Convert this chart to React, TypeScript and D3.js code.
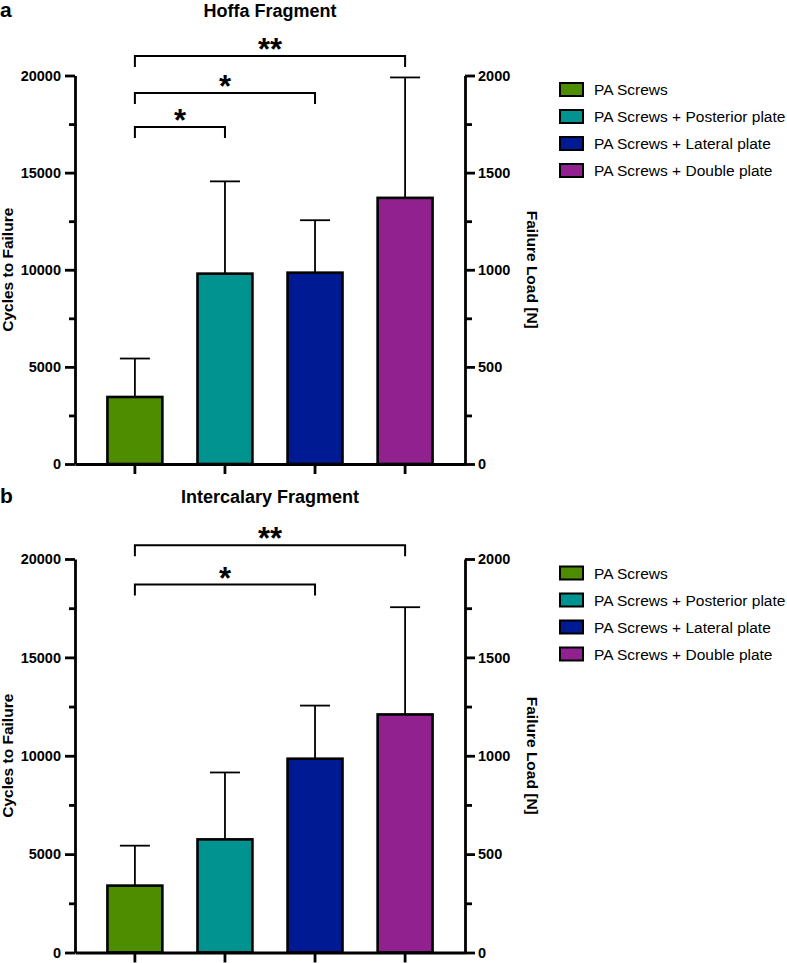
import React, { useRef, useEffect } from "react";
import * as d3 from "d3";

const chart_width = 787;
const chart_height = 963;
const font = "'Liberation Sans', Arial, Helvetica, sans-serif";

const groups = [
  "PA Screws",
  "PA Screws + Posterior plate",
  "PA Screws + Lateral plate",
  "PA Screws + Double plate",
];
const colors = ["#4e8c00", "#00938f", "#001a94", "#91218f"];

// panel a - Hoffa fragment
const hoffaMeans = [3450, 9800, 9850, 13700];
const hoffaSD = [1980, 4750, 2700, 6200];
const hoffaBrackets = [
  { from: 0, to: 1, level: 17350, label: "*" },
  { from: 0, to: 2, level: 19100, label: "*" },
  { from: 0, to: 3, level: 21000, label: "**" },
];

// panel b - Intercalary fragment
const interMeans = [3400, 5750, 9850, 12100];
const interSD = [2030, 3400, 2700, 5450];
const interBrackets = [
  { from: 0, to: 2, level: 18700, label: "*" },
  { from: 0, to: 3, level: 20700, label: "**" },
];

const cycleTicks = [0, 5000, 10000, 15000, 20000];
const cycleMinor = [2500, 7500, 12500, 17500];
const loadTicks = [0, 500, 1000, 1500, 2000];
const loadMinor = [250, 750, 1250, 1750];

const plot_left = 75;
const plot_right = 465;

interface PanelProps {
  letter: string;
  title: string;
  means: number[];
  sds: number[];
  brackets: { from: number; to: number; level: number; label: string }[];
  y0: number;
  y1: number;
  titleY: number;
}

const panels: PanelProps[] = [
  { letter: "a", title: "Hoffa Fragment", means: hoffaMeans, sds: hoffaSD, brackets: hoffaBrackets, y0: 464, y1: 75.5, titleY: 17 },
  { letter: "b", title: "Intercalary Fragment", means: interMeans, sds: interSD, brackets: interBrackets, y0: 952.5, y1: 559, titleY: 503 },
];

function drawPanel(svg: any, p: PanelProps) {
  const g = svg.append("g");

  const x = d3
    .scaleBand()
    .domain(groups)
    .range([plot_left, plot_right])
    .paddingInner(0.39)
    .paddingOuter(0.36);
  const y = d3.scaleLinear().domain([0, 20000]).range([p.y0, p.y1]);
  const yR = d3.scaleLinear().domain([0, 2000]).range([p.y0, p.y1]);
  const bw = x.bandwidth();
  const cx = (i: number) => (x(groups[i]) as number) + bw / 2;
  const fmt = d3.format("d");

  // error bars (upper only)
  const err = g.append("g").attr("stroke", "#000").attr("stroke-width", 1.8);
  p.means.forEach((m, i) => {
    err
      .append("line")
      .attr("x1", cx(i))
      .attr("x2", cx(i))
      .attr("y1", y(m))
      .attr("y2", y(m + p.sds[i]));
    err
      .append("line")
      .attr("x1", cx(i) - 15)
      .attr("x2", cx(i) + 15)
      .attr("y1", y(m + p.sds[i]))
      .attr("y2", y(m + p.sds[i]));
  });

  g.selectAll("rect.bar")
    .data(p.means)
    .enter()
    .append("rect")
    .attr("class", "bar")
    .attr("x", (d: number, i: number) => x(groups[i]) as number)
    .attr("y", (d: number) => y(d))
    .attr("width", bw)
    .attr("height", (d: number) => p.y0 - y(d))
    .attr("fill", (d: number, i: number) => colors[i])
    .attr("stroke", "#000")
    .attr("stroke-width", 2.6);

  // axes
  const styleAxis = (sel: any) => {
    sel.selectAll(".domain, .tick line").attr("stroke", "#000").attr("stroke-width", 2.8);
    sel
      .selectAll("text")
      .attr("fill", "#000")
      .attr("font-family", font)
      .attr("font-weight", "bold")
      .attr("font-size", 14.5);
  };

  g.append("g")
    .attr("transform", "translate(" + plot_left + ",0)")
    .call(d3.axisLeft(y).tickValues(cycleTicks).tickSize(10).tickSizeOuter(0).tickPadding(4).tickFormat(fmt))
    .call(styleAxis);
  g.append("g")
    .attr("transform", "translate(" + plot_left + ",0)")
    .call(d3.axisLeft(y).tickValues(cycleMinor).tickSize(6).tickSizeOuter(0).tickFormat(() => ""))
    .call(styleAxis)
    .select(".domain")
    .remove();

  g.append("g")
    .attr("transform", "translate(" + plot_right + ",0)")
    .call(d3.axisRight(yR).tickValues(loadTicks).tickSize(10).tickSizeOuter(0).tickPadding(3).tickFormat(fmt))
    .call(styleAxis);
  g.append("g")
    .attr("transform", "translate(" + plot_right + ",0)")
    .call(d3.axisRight(yR).tickValues(loadMinor).tickSize(7).tickSizeOuter(0).tickFormat(() => ""))
    .call(styleAxis)
    .select(".domain")
    .remove();

  g.append("g")
    .attr("transform", "translate(0," + p.y0 + ")")
    .call(d3.axisBottom(x).tickSize(10).tickSizeOuter(0).tickFormat(() => ""))
    .call(styleAxis);

  // significance brackets
  p.brackets.forEach((b) => {
    const xa = cx(b.from);
    const xb = cx(b.to);
    const ly = y(b.level);
    g.append("path")
      .attr("d", `M${xa},${ly + 11}V${ly}H${xb}V${ly + 11}`)
      .attr("fill", "none")
      .attr("stroke", "#000")
      .attr("stroke-width", 2);
    g.append("text")
      .attr("x", (xa + xb) / 2)
      .attr("y", ly + 4)
      .attr("text-anchor", "middle")
      .attr("font-family", font)
      .attr("font-weight", "bold")
      .attr("font-size", 31)
      .text(b.label);
  });

  // titles and labels
  g.append("text")
    .attr("x", 0)
    .attr("y", p.titleY)
    .attr("font-family", font)
    .attr("font-weight", "bold")
    .attr("font-size", 21)
    .text(p.letter);
  g.append("text")
    .attr("x", (plot_left + plot_right) / 2)
    .attr("y", p.titleY)
    .attr("text-anchor", "middle")
    .attr("font-family", font)
    .attr("font-weight", "bold")
    .attr("font-size", 18)
    .text(p.title);

  const mid = (p.y0 + p.y1) / 2;
  g.append("text")
    .attr("transform", `translate(13,${mid}) rotate(-90)`)
    .attr("text-anchor", "middle")
    .attr("font-family", font)
    .attr("font-weight", "bold")
    .attr("font-size", 15.5)
    .text("Cycles to Failure");
  g.append("text")
    .attr("transform", `translate(527,${mid}) rotate(90)`)
    .attr("text-anchor", "middle")
    .attr("font-family", font)
    .attr("font-weight", "bold")
    .attr("font-size", 15.5)
    .text("Failure Load [N]");

  // legend
  const legend = g.append("g").attr("transform", `translate(560,${p.y1 + 14})`);
  groups.forEach((name, i) => {
    legend
      .append("rect")
      .attr("x", 0)
      .attr("y", i * 27 - 6.5)
      .attr("width", 23)
      .attr("height", 13)
      .attr("fill", colors[i])
      .attr("stroke", "#000")
      .attr("stroke-width", 2);
    legend
      .append("text")
      .attr("x", 34)
      .attr("y", i * 27)
      .attr("dy", "0.36em")
      .attr("font-family", font)
      .attr("font-size", 15.5)
      .text(name);
  });
}

const App: React.FC = () => {
  const d3Container = useRef<SVGSVGElement>(null);

  useEffect(() => {
    if (d3Container.current) {
      const svg = d3.select(d3Container.current);
      svg.selectAll("*").remove();
      panels.forEach((p) => drawPanel(svg, p));
    }
  }, []);

  return (
    <svg
      ref={d3Container}
      width={chart_width}
      height={chart_height}
      style={{ position: "absolute", left: 0, top: 0, background: "#fff" }}
    />
  );
};

export default App;
